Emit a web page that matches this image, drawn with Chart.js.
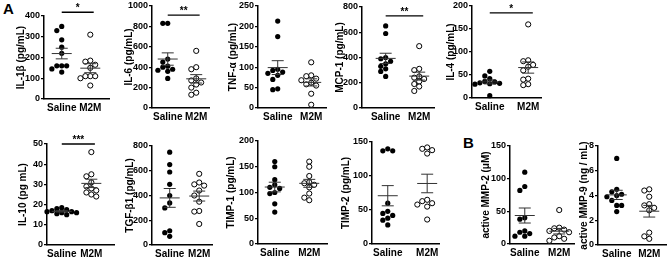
<!DOCTYPE html>
<html>
<head>
<meta charset="utf-8">
<script src="https://cdn.jsdelivr.net/npm/chart.js@4.4.1/dist/chart.umd.min.js"></script>
<style>
  html, body { margin: 0; padding: 0; background: #fff; }
  #fig { position: relative; width: 669px; height: 258px; overflow: hidden; }
  #fig canvas { position: absolute; }
  .tag { position: absolute; font: bold 15px "Liberation Sans", Arial, sans-serif; color: #000; }
</style>
</head>
<body>
<div id="fig">
  <div class="tag" style="left:3px; top:0px;">A</div>
  <div class="tag" style="left:463px; top:134px;">B</div>
</div>
<script>
// ---- data ----
const groups = ['Saline', 'M2M'];

const il1bSaline = [350, 330, 285, 250, 220, 160, 160, 160, 145, 130];
const il1bM2m = [310, 185, 180, 165, 150, 110, 110, 110, 100, 65];
const il6Saline = [830, 830, 480, 450, 410, 400, 380, 370, 360, 290];
const il6M2m = [560, 400, 380, 290, 270, 250, 230, 200, 150, 130];
const tnfSaline = [213, 175, 95, 92, 88, 85, 80, 70, 47, 45];
const tnfM2m = [112, 80, 78, 72, 68, 62, 58, 55, 35, 8];
const mcp1Saline = [650, 590, 400, 390, 370, 350, 330, 310, 290, 250];
const mcp1M2m = [490, 310, 300, 250, 240, 230, 210, 190, 170, 135];
const il4Saline = [58, 48, 42, 36, 35, 33, 32, 31, 30, 5];
const il4M2m = [160, 82, 80, 72, 68, 60, 42, 40, 30, 28];

const il10Saline = [18.5, 18, 17.5, 17, 16.5, 16.5, 16, 16, 15.5, 15];
const il10M2m = [46, 35, 34, 31, 29, 28, 27, 26, 25, 24];
const tgfSaline = [750, 650, 590, 490, 400, 340, 300, 115, 100, 70];
const tgfM2m = [575, 505, 490, 480, 440, 400, 350, 275, 270, 170];
const timp1Saline = [160, 150, 125, 115, 110, 108, 100, 98, 78, 62];
const timp1M2m = [160, 150, 132, 120, 118, 115, 110, 98, 90, 85];
const timp2Saline = [140, 137, 137, 60, 48, 45, 42, 38, 35, 28];
const timp2M2m = [142, 140, 138, 133, 65, 63, 60, 58, 55, 36];
const mmp2Saline = [110, 88, 82, 40, 38, 20, 18, 16, 12, 12];
const mmp2M2m = [52, 25, 24, 22, 20, 18, 12, 10, 8, 5];
const mmp9Saline = [7.0, 4.5, 4.3, 4.1, 4.0, 3.9, 3.6, 3.2, 3.2, 2.7];
const mmp9M2m = [4.5, 4.4, 3.9, 3.3, 3.2, 3.0, 2.8, 1.0, 0.7, 0.5];

const axisTitles = ['IL-1β (pg/mL)', 'IL-6 (pg/mL)', 'TNF-α (pg/mL)', 'MCP-1 (pg/mL)', 'IL-4 (pg/mL)',
  'IL-10 (pg mL)', 'TGF-β1 (pg/mL)', 'TIMP-1 (pg/mL)', 'TIMP-2 (pg/mL)', 'active MMP-2 (μM)', 'active MMP-9 (ng / mL)'];
const yMax = [400, 1000, 250, 800, 200, 50, 800, 200, 150, 150, 8];
const yStep = [100, 200, 50, 200, 50, 10, 200, 50, 50, 50, 2];
const stars = ['*', '**', '', '**', '*', '***', '', '', '', '', ''];
const starLevel = [418, 910, 0, 730, 185, 50, 0, 0, 0, 0, 0];

const series = [
  [il1bSaline, il1bM2m], [il6Saline, il6M2m], [tnfSaline, tnfM2m], [mcp1Saline, mcp1M2m], [il4Saline, il4M2m],
  [il10Saline, il10M2m], [tgfSaline, tgfM2m], [timp1Saline, timp1M2m], [timp2Saline, timp2M2m],
  [mmp2Saline, mmp2M2m], [mmp9Saline, mmp9M2m],
];

// ---- page layout of each panel (px) ----
const layout = [
  { titleX: 21, axisX: 44, axisEnd: 110, x1: 62, x2: 91, top: 16, bottom: 99 },
  { titleX: 129, axisX: 152, axisEnd: 210, x1: 168, x2: 197, top: 6, bottom: 108 },
  { titleX: 233, axisX: 258, axisEnd: 327, x1: 278, x2: 312, top: 6, bottom: 108 },
  { titleX: 340, axisX: 362, axisEnd: 435, x1: 386, x2: 420, top: 7, bottom: 108 },
  { titleX: 451, axisX: 472, axisEnd: 542, x1: 490, x2: 529, top: 6, bottom: 98 },
  { titleX: 23, axisX: 47, axisEnd: 115, x1: 62, x2: 92, top: 144, bottom: 245 },
  { titleX: 130, axisX: 152, axisEnd: 213, x1: 170, x2: 200, top: 146, bottom: 245 },
  { titleX: 231, axisX: 258, axisEnd: 328, x1: 275, x2: 310, top: 141, bottom: 244 },
  { titleX: 346, axisX: 372, axisEnd: 440, x1: 388, x2: 428, top: 142, bottom: 244 },
  { titleX: 486, axisX: 510, axisEnd: 575, x1: 525, x2: 560, top: 146, bottom: 244 },
  { titleX: 584, axisX: 598, axisEnd: 667, x1: 617, x2: 650, top: 146, bottom: 245 },
];

const FONT = { family: '"Liberation Sans", Arial, sans-serif', size: 10, weight: 'bold' };
const TICK_FONT = { family: '"Liberation Sans", Arial, sans-serif', size: 9, weight: 'bold' };
const INK = '#000';
const BAR_INK = '#333';
const DOT = 5;

function mean(a) { return a.reduce((s, v) => s + v, 0) / a.length; }
function sem(a) {
  const m = mean(a);
  return Math.sqrt(a.reduce((s, v) => s + (v - m) * (v - m), 0) / (a.length - 1)) / Math.sqrt(a.length);
}

// simple beeswarm: nudge points sideways until they stop overlapping
function swarm(vals, group, pxX, pxY) {
  const placed = [];
  const out = new Array(vals.length);
  const order = vals.map((v, i) => i).sort((a, b) => vals[b] - vals[a]);
  order.forEach(i => {
    const py = vals[i] * pxY;
    for (let k = 0; k < 16; k++) {
      const dx = (k % 2 ? -1 : 1) * Math.ceil(k / 2) * DOT;
      if (placed.every(p => Math.hypot(p.dx - dx, p.py - py) >= DOT)) {
        placed.push({ dx, py });
        out[i] = { x: group + dx / pxX, y: vals[i] };
        break;
      }
    }
  });
  return out;
}

function summaryPlugin(idx) {
  return {
    id: 'summary' + idx,
    afterDatasetsDraw(chart) {
      const { ctx, scales: { x, y } } = chart;
      ctx.save();
      ctx.strokeStyle = BAR_INK;
      ctx.lineWidth = 1;
      series[idx].forEach((vals, g) => {
        const m = mean(vals), s = sem(vals);
        const cx = x.getPixelForValue(g + 1);
        const ym = y.getPixelForValue(m), yt = y.getPixelForValue(m + s), yb = y.getPixelForValue(m - s);
        ctx.beginPath();
        ctx.moveTo(cx - 10, ym); ctx.lineTo(cx + 10, ym);
        ctx.moveTo(cx - 6, yt); ctx.lineTo(cx + 6, yt);
        ctx.moveTo(cx - 6, yb); ctx.lineTo(cx + 6, yb);
        ctx.moveTo(cx, yt); ctx.lineTo(cx, yb);
        ctx.stroke();
      });
      if (stars[idx]) {
        const yb = y.getPixelForValue(starLevel[idx]);
        const xa = x.getPixelForValue(1), xz = x.getPixelForValue(2.12);
        ctx.strokeStyle = INK;
        ctx.lineWidth = 1.3;
        ctx.beginPath(); ctx.moveTo(xa, yb); ctx.lineTo(xz, yb); ctx.stroke();
        ctx.fillStyle = INK;
        ctx.font = 'bold 10px "Liberation Sans", Arial, sans-serif';
        ctx.textAlign = 'center';
        ctx.textBaseline = 'bottom';
        ctx.fillText(stars[idx], (xa + xz) / 2, yb + 1);
      }
      ctx.restore();
    },
  };
}

const fig = document.getElementById('fig');

layout.forEach((L, i) => {
  const padT = Math.min(14, L.top);
  const left = L.titleX - 8;
  const top = L.top - padT;
  const w = L.axisEnd + 4 - left;
  const h = L.bottom - top + 16 + 2;
  const cv = document.createElement('canvas');
  cv.width = w; cv.height = h;
  cv.style.left = left + 'px'; cv.style.top = top + 'px';
  cv.style.width = w + 'px'; cv.style.height = h + 'px';
  fig.appendChild(cv);

  const pxX = L.x2 - L.x1;
  const pxY = (L.bottom - L.top) / yMax[i];
  const xMin = 1 - (L.x1 - L.axisX) / pxX;
  const xMax = xMin + (L.axisEnd - L.axisX) / pxX;
  const yW = L.axisX - left - 2;

  new Chart(cv, {
    type: 'scatter',
    data: {
      datasets: [
        { data: swarm(series[i][0], 1, pxX, pxY), pointRadius: 2.6, pointBackgroundColor: INK, pointBorderColor: INK, pointBorderWidth: 0, clip: false },
        { data: swarm(series[i][1], 2, pxX, pxY), pointRadius: 2.6, pointBackgroundColor: '#fff', pointBorderColor: INK, pointBorderWidth: 1, clip: false },
      ],
    },
    options: {
      responsive: false,
      animation: false,
      events: [],
      layout: { padding: { left: 2, right: 4, top: padT, bottom: 2 } },
      plugins: { legend: { display: false }, tooltip: { enabled: false } },
      scales: {
        x: {
          type: 'linear', min: xMin, max: xMax,
          afterBuildTicks: s => { s.ticks = [{ value: 1 }, { value: 2 }]; },
          ticks: { callback: v => groups[v - 1], font: FONT, color: INK, padding: 3, autoSkip: false, maxRotation: 0 },
          grid: { display: false, drawTicks: false },
          border: { color: INK, width: 1.5 },
          afterFit: s => { s.height = 16; s.paddingLeft = 0; s.paddingRight = 0; },
        },
        y: {
          min: 0, max: yMax[i],
          ticks: { stepSize: yStep[i], font: TICK_FONT, color: INK, padding: 1, callback: v => String(v) },
          grid: { drawOnChartArea: false, tickLength: 3, color: INK, lineWidth: 1.2 },
          border: { color: INK, width: 1.5 },
          title: { display: true, text: axisTitles[i], font: FONT, color: INK, padding: 0 },
          afterFit: s => { s.width = yW; s.paddingTop = 0; s.paddingBottom = 0; },
        },
      },
    },
    plugins: [summaryPlugin(i)],
  });
});
</script>
</body>
</html>
